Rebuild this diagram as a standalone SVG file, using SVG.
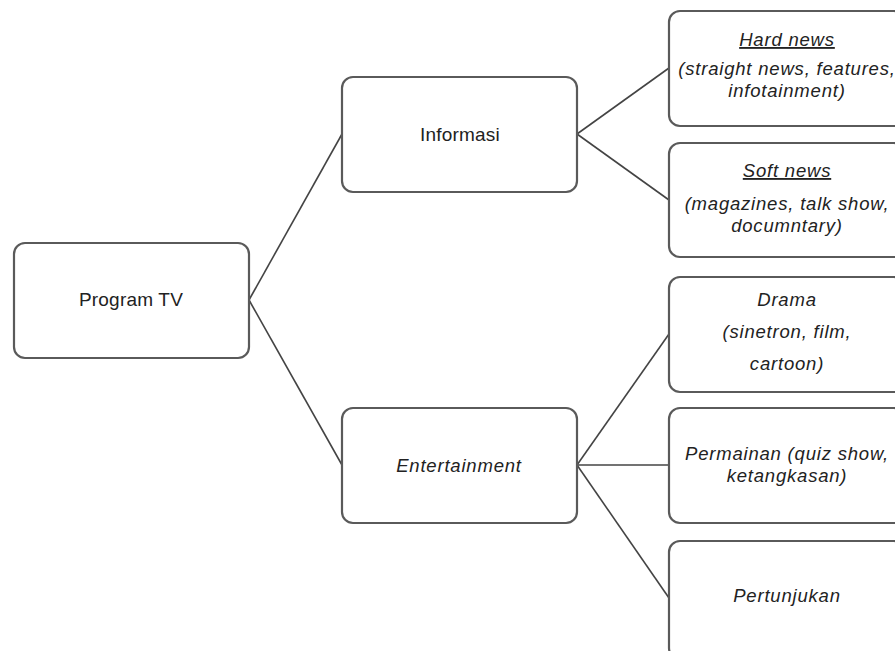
<svg xmlns="http://www.w3.org/2000/svg" width="895" height="651" viewBox="0 0 895 651">
<style>
.box{fill:#fff;stroke:#5a5a5a;stroke-width:2.2}
.t{font-family:"Liberation Sans",Arial,sans-serif;font-size:19px;letter-spacing:0.2px;fill:#222;text-anchor:middle}
.i{font-style:italic;font-size:18.5px;letter-spacing:0.8px}
.u{text-decoration:underline}
.c{stroke:#444;stroke-width:1.6;fill:none}
</style>
<rect width="895" height="651" fill="#fff"/>
<g id="connectors">
<line class="c" x1="249" y1="300" x2="342" y2="134"/>
<line class="c" x1="249" y1="300" x2="342" y2="465"/>
<line class="c" x1="577" y1="134" x2="669" y2="68"/>
<line class="c" x1="577" y1="134" x2="669" y2="200"/>
<line class="c" x1="577" y1="465" x2="669" y2="334"/>
<line class="c" x1="577" y1="465" x2="669" y2="465"/>
<line class="c" x1="577" y1="465" x2="669" y2="598"/>
</g>
<g id="program-tv">
<rect class="box" x="14" y="243" width="235" height="115" rx="11"/>
<text class="t" x="131" y="306">Program TV</text>
</g>
<g id="informasi">
<rect class="box" x="342" y="77" width="235" height="115" rx="11"/>
<text class="t" x="460" y="141">Informasi</text>
</g>
<g id="entertainment">
<rect class="box" x="342" y="408" width="235" height="115" rx="11"/>
<text class="t i" x="459" y="472">Entertainment</text>
</g>
<g id="hard-news">
<rect class="box" x="669" y="11" width="236" height="115" rx="11"/>
<text class="t i u" x="787" y="46">Hard news</text>
<text class="t i" x="787" y="75">(straight news, features,</text>
<text class="t i" x="787" y="97">infotainment)</text>
</g>
<g id="soft-news">
<rect class="box" x="669" y="143" width="236" height="114" rx="11"/>
<text class="t i u" x="787" y="177">Soft news</text>
<text class="t i" x="787" y="210">(magazines, talk show,</text>
<text class="t i" x="787" y="232">documntary)</text>
</g>
<g id="drama">
<rect class="box" x="669" y="277" width="236" height="115" rx="11"/>
<text class="t i" x="787" y="306">Drama</text>
<text class="t i" x="787" y="338">(sinetron, film,</text>
<text class="t i" x="787" y="370">cartoon)</text>
</g>
<g id="permainan">
<rect class="box" x="669" y="408" width="236" height="115" rx="11"/>
<text class="t i" x="787" y="460">Permainan (quiz show,</text>
<text class="t i" x="787" y="482">ketangkasan)</text>
</g>
<g id="pertunjukan">
<rect class="box" x="669" y="541" width="236" height="118" rx="11"/>
<text class="t i" x="787" y="602">Pertunjukan</text>
</g>
</svg>
